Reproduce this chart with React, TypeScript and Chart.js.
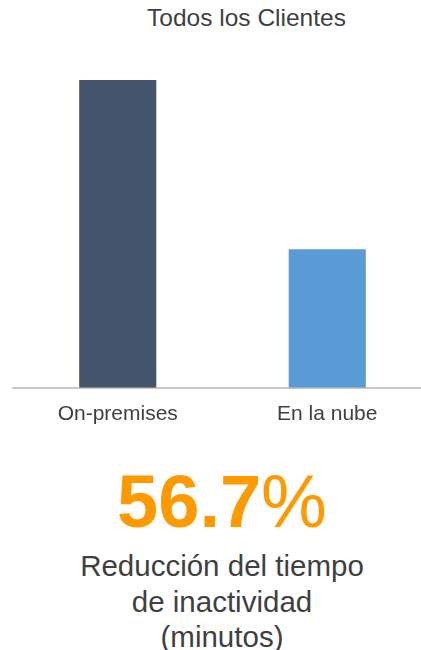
import React, { useEffect, useRef } from "react";
import { Chart, registerables } from "chart.js";

Chart.register(...registerables);

const title = "Todos los Clientes";
const categories = ["On-premises", "En la nube"];
const values = [100, 45];
const barColors = ["#44546A", "#5B9BD5"];
const headline = "56.7";
const headlineUnit = "%";
const captionLines = ["Reducción del tiempo", "de inactividad", "(minutos)"];

const FONT = "'Liberation Sans', Arial, Helvetica, sans-serif";

export default function App() {
  const canvasRef = useRef<HTMLCanvasElement | null>(null);

  useEffect(() => {
    const canvas = canvasRef.current;
    if (!canvas) return;
    const chart = new Chart(canvas, {
      type: "bar",
      data: {
        labels: categories,
        datasets: [
          {
            data: values,
            backgroundColor: barColors,
            borderWidth: 0,
            categoryPercentage: 1,
            barPercentage: 0.368,
          },
        ],
      },
      options: {
        animation: false,
        responsive: false,
        maintainAspectRatio: false,
        layout: { padding: { top: 80, left: 13, right: 8, bottom: 0 } },
        plugins: {
          legend: { display: false },
          title: { display: false },
          tooltip: { enabled: false },
        },
        scales: {
          x: {
            grid: { display: false, drawTicks: false },
            border: { display: true, color: "#C8C8C8", width: 2 },
            ticks: {
              color: "#404040",
              font: { family: FONT, size: 21 },
              padding: 14,
            },
          },
          y: {
            display: false,
            min: 0,
            max: 100,
          },
        },
      },
    });
    return () => chart.destroy();
  }, []);

  return (
    <div
      style={{
        position: "absolute",
        left: 0,
        top: 0,
        width: 421,
        height: 650,
        overflow: "hidden",
        background: "#ffffff",
        fontFamily: FONT,
      }}
    >
      <div
        style={{
          position: "absolute",
          left: 0,
          top: 6,
          width: 493,
          textAlign: "center",
          fontSize: 24.5,
          lineHeight: "24px",
          color: "#404040",
          whiteSpace: "nowrap",
        }}
      >
        {title}
      </div>
      <canvas
        ref={canvasRef}
        width={440}
        height={441}
        style={{ position: "absolute", left: 0, top: 0, width: 440, height: 441 }}
      />
      <div
        style={{
          position: "absolute",
          left: 0,
          top: 465,
          width: 444,
          textAlign: "center",
          fontSize: 74,
          lineHeight: "74px",
          color: "#FF9900",
          whiteSpace: "nowrap",
        }}
      >
        <span style={{ fontWeight: "bold" }}>{headline}</span>
        <span style={{ fontWeight: "normal" }}>{headlineUnit}</span>
      </div>
      <div
        style={{
          position: "absolute",
          left: 0,
          top: 548,
          width: 444,
          textAlign: "center",
          fontSize: 29.5,
          lineHeight: "35.5px",
          color: "#404040",
        }}
      >
        {captionLines.map((l, i) => (
          <div key={i} style={{ whiteSpace: "nowrap" }}>
            {l}
          </div>
        ))}
      </div>
    </div>
  );
}
